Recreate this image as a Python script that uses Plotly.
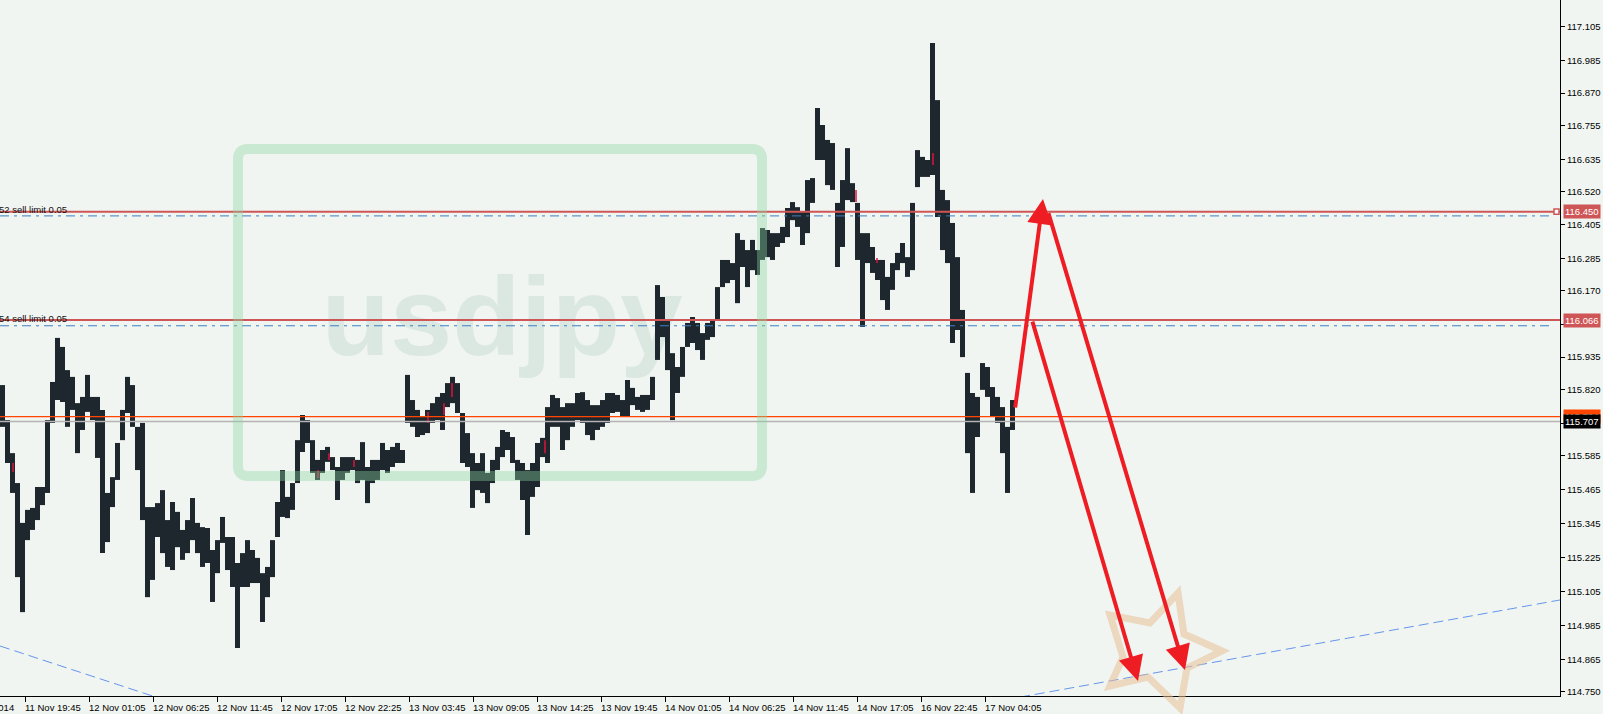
import plotly.graph_objects as go

# ---------------- data (USDJPY M5; one column = 5 bars) ----------------
BARS_PER_COLUMN = 5
HIGH = [115.836, 115.712, 115.595, 115.489, 115.348, 115.394, 115.401, 115.475, 115.475, 115.712,
        115.847, 116.003, 115.971, 115.889, 115.865, 115.772, 115.794, 115.872, 115.794, 115.794,
        115.748, 115.454, 115.510, 115.631, 115.748, 115.865, 115.836, 115.688, 115.702, 115.404,
        115.404, 115.418, 115.464, 115.358, 115.422, 115.387, 115.323, 115.358, 115.436, 115.348,
        115.333, 115.330, 115.252, 115.287, 115.369, 115.298, 115.298, 115.206, 115.241, 115.287,
        115.252, 115.224, 115.170, 115.192, 115.287, 115.422, 115.535, 115.440, 115.489, 115.641,
        115.730, 115.712, 115.641, 115.571, 115.606, 115.617, 115.581, 115.546, 115.581, 115.581,
        115.581, 115.571, 115.634, 115.546, 115.571, 115.571, 115.631, 115.606, 115.617, 115.631,
        115.606, 115.872, 115.783, 115.748, 115.723, 115.748, 115.772, 115.794, 115.808, 115.843,
        115.865, 115.843, 115.737, 115.666, 115.595, 115.560, 115.595, 115.525, 115.571, 115.617,
        115.677, 115.670, 115.652, 115.571, 115.560, 115.535, 115.560, 115.631, 115.649, 115.758,
        115.801, 115.790, 115.758, 115.772, 115.772, 115.808, 115.811, 115.783, 115.765, 115.765,
        115.783, 115.808, 115.808, 115.801, 115.783, 115.854, 115.826, 115.794, 115.801, 115.801,
        115.865, 116.190, 116.148, 116.066, 115.949, 115.900, 115.971, 116.056, 116.077, 116.056,
        116.020, 116.056, 116.066, 116.183, 116.279, 116.279, 116.268, 116.374, 116.350, 116.314,
        116.350, 116.314, 116.392, 116.385, 116.374, 116.374, 116.396, 116.463, 116.484, 116.466,
        116.449, 116.562, 116.569, 116.817, 116.757, 116.704, 116.693, 116.481, 116.562, 116.675,
        116.551, 116.481, 116.374, 116.374, 116.325, 116.279, 116.279, 116.219, 116.268, 116.304,
        116.339, 116.289, 116.481, 116.668, 116.644, 116.633, 117.047, 116.845, 116.527, 116.491,
        116.410, 116.289, 116.102, 115.879, 115.808, 115.794, 115.914, 115.900, 115.829, 115.794,
        115.758, 115.688, 115.783]
LOW = [115.688, 115.560, 115.454, 115.156, 115.032, 115.287, 115.323, 115.358, 115.411, 115.454,
       115.702, 115.783, 115.776, 115.688, 115.748, 115.595, 115.677, 115.741, 115.712, 115.578,
       115.241, 115.280, 115.404, 115.500, 115.641, 115.737, 115.688, 115.535, 115.358, 115.085,
       115.146, 115.298, 115.241, 115.192, 115.181, 115.262, 115.217, 115.241, 115.287, 115.241,
       115.192, 115.206, 115.068, 115.170, 115.277, 115.181, 115.121, 114.905, 115.121, 115.121,
       115.135, 115.135, 114.997, 115.085, 115.156, 115.298, 115.369, 115.365, 115.394, 115.489,
       115.599, 115.631, 115.525, 115.500, 115.525, 115.564, 115.535, 115.429, 115.500, 115.525,
       115.535, 115.489, 115.500, 115.418, 115.489, 115.500, 115.535, 115.525, 115.546, 115.560,
       115.560, 115.702, 115.688, 115.652, 115.659, 115.666, 115.702, 115.712, 115.677, 115.758,
       115.772, 115.737, 115.560, 115.546, 115.401, 115.464, 115.454, 115.418, 115.489, 115.535,
       115.581, 115.606, 115.560, 115.500, 115.429, 115.305, 115.440, 115.475, 115.581, 115.560,
       115.688, 115.688, 115.606, 115.641, 115.688, 115.712, 115.702, 115.659, 115.641, 115.677,
       115.688, 115.702, 115.737, 115.741, 115.723, 115.723, 115.765, 115.748, 115.741, 115.748,
       115.783, 115.925, 116.006, 115.889, 115.712, 115.808, 115.865, 115.971, 115.985, 115.960,
       115.925, 115.996, 116.006, 116.066, 116.183, 116.197, 116.208, 116.126, 116.254, 116.183,
       116.243, 116.226, 116.279, 116.289, 116.279, 116.325, 116.339, 116.360, 116.420, 116.396,
       116.332, 116.374, 116.481, 116.633, 116.633, 116.544, 116.527, 116.254, 116.325, 116.491,
       116.484, 116.279, 116.042, 116.268, 116.233, 116.208, 116.137, 116.102, 116.173, 116.243,
       116.268, 116.219, 116.243, 116.537, 116.573, 116.573, 116.580, 116.431, 116.314, 116.268,
       115.985, 116.031, 115.935, 115.595, 115.454, 115.652, 115.819, 115.794, 115.723, 115.702,
       115.595, 115.454, 115.677]

# a few up (red) bars
RED_BAR = [13, 318, 329, 354, 428, 444, 452, 545, 856, 877, 933]
RED_HIGH = [115.560, 115.535, 115.595, 115.571, 115.741, 115.772, 115.843, 115.641, 116.527, 116.286, 116.658]
RED_LOW = [115.528, 115.507, 115.571, 115.546, 115.702, 115.730, 115.794, 115.595, 116.484, 116.268, 116.615]

TIME_POS = [-39, 25, 89, 153, 217, 281, 345, 409, 473, 537, 601, 665, 729, 793, 857, 921, 985]
TIME_LABELS = ["11 Nov 2014", "11 Nov 19:45", "12 Nov 01:05", "12 Nov 06:25", "12 Nov 11:45",
               "12 Nov 17:05", "12 Nov 22:25", "13 Nov 03:45", "13 Nov 09:05", "13 Nov 14:25",
               "13 Nov 19:45", "14 Nov 01:05", "14 Nov 06:25", "14 Nov 11:45", "14 Nov 17:05",
               "16 Nov 22:45", "17 Nov 04:05"]

PRICE_TICKS = [117.105, 116.985, 116.870, 116.755, 116.635, 116.520, 116.405, 116.285, 116.170,
               116.050, 115.935, 115.820, 115.700, 115.585, 115.465, 115.345, 115.225, 115.105,
               114.985, 114.865, 114.750]
HIDDEN_TICKS = [116.050, 115.700]   # labels covered by the price tags

ORDER_PRICES = [116.450, 116.066]
ORDER_LABELS = ["52 sell limit 0.05", "54 sell limit 0.05"]
ORDER_TARGETS = [116.435, 116.046]
ASK_PRICE = 115.724
BID_PRICE = 115.707

TREND_A = ([0, 156], [114.912, 114.731])
TREND_B = ([1020, 1560], [114.731, 115.075])

# drawn projection arrows: (tail bar, tail price, head bar, head price)
ARROWS = [(1015, 115.751, 1043, 116.495),
          (1032, 116.066, 1138, 114.788),
          (1048, 116.450, 1185, 114.827)]

X_RANGE = [0, 1560]
Y_RANGE = [114.735, 117.1995]

# ---------------- styling ----------------
BG = "#F1F5F1"
BAR_COLOR = "#1E272E"
FONT = "Liberation Sans"
PLOT_W, PLOT_H = 1560, 696

fig = go.Figure()

# watermark text (below the bars)
fig.add_trace(go.Scatter(x=[502], y=[116.042], mode="text", text=["usdjpy"],
                         textposition="middle center",
                         textfont=dict(family=FONT, size=112, color="#DBE8E2", weight="bold"),
                         hoverinfo="skip", showlegend=False))

# price bars
xs, ys = [], []
for i, (h, l) in enumerate(zip(HIGH, LOW)):
    c = i * BARS_PER_COLUMN + BARS_PER_COLUMN / 2
    xs += [c, c, None]
    ys += [l, h, None]
fig.add_trace(go.Scatter(x=xs, y=ys, mode="lines", line=dict(color=BAR_COLOR, width=5),
                         hoverinfo="skip", showlegend=False))

rx, ry = [], []
for b, h, l in zip(RED_BAR, RED_HIGH, RED_LOW):
    rx += [b, b, None]
    ry += [l, h, None]
fig.add_trace(go.Scatter(x=rx, y=ry, mode="lines", line=dict(color="#DC143C", width=1.5),
                         hoverinfo="skip", showlegend=False))

shapes = []
# order lines
for p in ORDER_PRICES:
    shapes.append(dict(type="line", xref="paper", x0=0, x1=1, yref="y", y0=p, y1=p,
                       line=dict(color="#CF5656", width=2), layer="above"))
for p in ORDER_TARGETS:
    shapes.append(dict(type="line", xref="paper", x0=0, x1=1553 / PLOT_W, yref="y", y0=p, y1=p,
                       line=dict(color="#3A80C4", width=1, dash="9px,5px,3px,5px"), layer="above"))
shapes.append(dict(type="line", xref="paper", x0=0, x1=1, yref="y", y0=ASK_PRICE, y1=ASK_PRICE,
                   line=dict(color="#FF4500", width=1.3), layer="above"))
shapes.append(dict(type="line", xref="paper", x0=0, x1=1, yref="y", y0=BID_PRICE, y1=BID_PRICE,
                   line=dict(color="#B4B4B4", width=1.3), layer="above"))
# small handle square on the first order line
shapes.append(dict(type="rect", xref="paper", x0=1554 / PLOT_W, x1=1559 / PLOT_W, yref="y",
                   y0=ORDER_PRICES[0] - 0.009, y1=ORDER_PRICES[0] + 0.009,
                   line=dict(color="#CF5656", width=1.5), fillcolor="white", layer="above"))
# trend lines
for tx, ty in (TREND_A, TREND_B):
    shapes.append(dict(type="line", xref="x", yref="y", x0=tx[0], x1=tx[1], y0=ty[0], y1=ty[1],
                       line=dict(color="#6495ED", width=1, dash="10px,5px"), layer="above"))


def P(x, y):
    return f"{x / PLOT_W:.5f},{1 - y / PLOT_H:.5f}"


# watermark rounded rectangle
L, T, R, B, rad = 238, 149, 762, 476, 10
rect_path = (f"M{P(L + rad, T)} L{P(R - rad, T)} Q{P(R, T)} {P(R, T + rad)} "
             f"L{P(R, B - rad)} Q{P(R, B)} {P(R - rad, B)} L{P(L + rad, B)} Q{P(L, B)} {P(L, B - rad)} "
             f"L{P(L, T + rad)} Q{P(L, T)} {P(L + rad, T)} Z")
shapes.append(dict(type="path", xref="paper", yref="paper", path=rect_path,
                   line=dict(color="rgba(140,212,160,0.38)", width=10), layer="above"))

# star outline
STAR = [(1178, 593), (1184, 634), (1222, 651), (1187, 668), (1180, 708),
        (1148, 677), (1110, 686), (1123, 657), (1110, 615), (1150, 623)]
star_path = "M" + " L".join(P(x, y) for x, y in STAR) + " Z"
shapes.append(dict(type="path", xref="paper", yref="paper", path=star_path,
                   line=dict(color="rgba(232,190,150,0.55)", width=7), layer="above"))

annotations = []
# order labels on the left
for p, t in zip(ORDER_PRICES, ORDER_LABELS):
    annotations.append(dict(x=-3 / PLOT_W, xref="paper", y=p, yref="y", text=t, showarrow=False,
                            xanchor="left", yanchor="middle", yshift=2,
                            font=dict(family=FONT, size=9.5, color="#111111")))
# time labels
for pos, lab in zip(TIME_POS, TIME_LABELS):
    annotations.append(dict(x=(pos - 2) / PLOT_W, xref="paper", y=0, yref="paper", text=lab,
                            showarrow=False, xanchor="left", yanchor="top", yshift=-4,
                            font=dict(family=FONT, size=9.5, color="#000000")))
# price tags
for p, txt, bg in [(ORDER_PRICES[0], "116.450", "#CF5656"), (ORDER_PRICES[1], "116.066", "#CF5656"),
                   (ASK_PRICE, "115.724", "#FF4500"), (BID_PRICE, "115.707", "#000000")]:
    annotations.append(dict(x=1, xref="paper", y=p, yref="y", text=txt, showarrow=False,
                            xanchor="left", yanchor="middle", xshift=3, bgcolor=bg, borderpad=1,
                            font=dict(family=FONT, size=9.5, color="white")))
# arrows
for tx, ty, hx, hy in ARROWS:
    annotations.append(dict(x=hx, y=hy, xref="x", yref="y", ax=tx, ay=ty, axref="x", ayref="y",
                            text="", showarrow=True, arrowhead=2, arrowsize=1.25, arrowwidth=4,
                            arrowcolor="#EE1D23", standoff=0, startstandoff=0))

fig.update_layout(
    width=1603, height=714,
    margin=dict(l=0, r=43, t=0, b=18),
    paper_bgcolor=BG, plot_bgcolor=BG,
    showlegend=False,
    shapes=shapes, annotations=annotations,
    xaxis=dict(range=X_RANGE, tickvals=[p for p in TIME_POS if p >= 0], showticklabels=False,
               ticks="outside", ticklen=5, tickcolor="black", showline=True, linecolor="black",
               linewidth=1, showgrid=False, zeroline=False, fixedrange=True),
    yaxis=dict(range=Y_RANGE, side="right", tickvals=PRICE_TICKS,
               ticktext=["" if v in HIDDEN_TICKS else f"{v:.3f}" for v in PRICE_TICKS],
               ticks="outside", ticklen=4,
               tickcolor="black", showline=True, linecolor="black", linewidth=1,
               showgrid=False, zeroline=False, fixedrange=True,
               tickfont=dict(family=FONT, size=9.5, color="black")),
)

fig.write_html("out.html", config={"displayModeBar": False},
               post_script="document.body.style.margin='0';document.body.style.overflow='hidden';")
